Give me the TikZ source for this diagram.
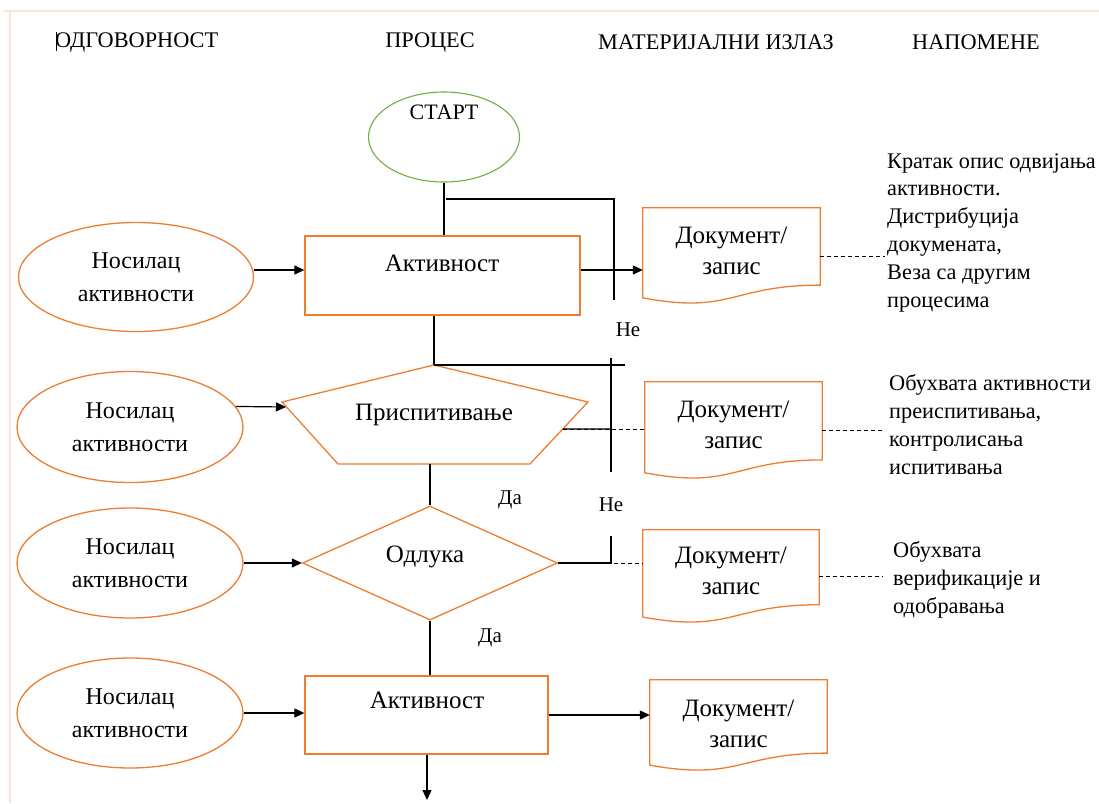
\documentclass[tikz,border=0pt]{standalone}
\usepackage{fontspec}
\setmainfont{Liberation Serif}
\usetikzlibrary{shapes.geometric,arrows.meta,calc}
\definecolor{shapeorange}{HTML}{ED7D31}
\definecolor{startgreen}{HTML}{70AD47}
\definecolor{framepeach}{HTML}{FBE4D5}

% document symbol with a wavy lower edge, drawn on the corners of node #1
\newcommand{\docoutline}[1]{%
  \draw[outline] (#1.north west) -- (#1.north east)
    -- ($(#1.north east)!0.802!(#1.south east)$)
    .. controls ($(#1.north)!0.802!(#1.south)$) and ($(#1.north)!1.108!(#1.south)$)
    .. ($(#1.north west)!0.934!(#1.south west)$) -- cycle;}

\begin{document}
\begin{tikzpicture}[x=1pt,y=-1pt,
  outline/.style={draw=shapeorange,line width=1.3pt},
  procbox/.style={outline,rectangle,inner sep=0pt},
  actor/.style={outline,ellipse,inner sep=0pt,align=center,font=\fontsize{24}{33}\selectfont},
  docnode/.style={rectangle,draw=none,inner sep=0pt},
  doctext/.style={align=center,font=\fontsize{25}{31}\selectfont},
  conn/.style={line width=1.2pt},
  arr/.style={conn,-{Triangle[length=10pt,width=9pt]}},
  leader/.style={line width=0.9pt,dash pattern=on 4pt off 3pt},
  boxtext/.style={font=\fontsize{25}{28}\selectfont},
  head/.style={font=\fontsize{22.3}{26}\selectfont},
  note/.style={align=left,anchor=west,inner sep=0pt,font=\fontsize{22.3}{27.8}\selectfont},
  answer/.style={font=\fontsize{21}{24}\selectfont}
]
\useasboundingbox (0,0) rectangle (1099,803);

% page frame
\draw[framepeach,line width=1.5pt] (4,11) -- (1099,11);
\draw[framepeach,line width=1.5pt] (10,11) -- (10,803);

% column headings
\node[head,anchor=west,inner sep=0pt] (hresp) at (55,42) {ОДГОВОРНОСТ};
\draw[line width=0.8pt] (56,32) -- (56,51);
\node[head] (hproc) at (430,42) {ПРОЦЕС};
\node[head] (hout) at (716,42) {МАТЕРИЈАЛНИ ИЗЛАЗ};
\node[head] (hnote) at (976,42) {НАПОМЕНЕ};

% start
\node[draw=startgreen,line width=1.1pt,ellipse,minimum width=151pt,minimum height=90pt,inner sep=0pt] (start) at (444,137) {};
\node[font=\fontsize{22}{25}\selectfont] (startt) at (444,112) {СТАРТ};

% actors
\node[actor,minimum width=235pt,minimum height=109pt] (ell1) at (136,277) {Носилац\\активности};
\node[actor,minimum width=226pt,minimum height=111pt] (ell2) at (130,427) {Носилац\\активности};
\node[actor,minimum width=226pt,minimum height=110pt] (ell3) at (130,563) {Носилац\\активности};
\node[actor,minimum width=226pt,minimum height=110pt] (ell4) at (130,713) {Носилац\\активности};

% process steps
\node[procbox,minimum width=275pt,minimum height=79pt] (act1) at (442.5,275.5) {};
\node[boxtext] (act1t) at (442,263) {Активност};

\coordinate (pT) at (434,365);
\coordinate (pRt) at (588,402);
\coordinate (pBR) at (530,464);
\coordinate (pBL) at (338,464);
\coordinate (pL) at (282,402);
\draw[outline,line join=miter] (pT) -- (pRt) -- (pBR) -- (pBL) -- (pL) -- cycle;
\node[boxtext] (review) at (434,415) {Приспитивање};
\coordinate (pB) at (430,464);
\coordinate (pR) at ($(pRt)!0.435!(pBR)$);

\node[outline,diamond,aspect=2.2,inner sep=0pt,minimum width=255pt,minimum height=114pt] (dec) at (430,563) {};
\node[boxtext] (dect) at (425,557) {Одлука};

\node[procbox,minimum width=243pt,minimum height=78pt] (act2) at (426.5,715) {};
\node[boxtext] (act2t) at (427,700) {Активност};

% output documents
\node[docnode,minimum width=177pt,minimum height=96pt] (doc1) at (731.5,256) {};
\node[docnode,minimum width=177pt,minimum height=97pt] (doc2) at (733.5,430.5) {};
\node[docnode,minimum width=176pt,minimum height=93pt] (doc3) at (731,576.5) {};
\node[docnode,minimum width=177pt,minimum height=91pt] (doc4) at (738.5,725.5) {};
\docoutline{doc1}
\docoutline{doc2}
\docoutline{doc3}
\docoutline{doc4}
\node[doctext] (doc1t) at (731.5,250.5) {Документ/\\запис};
\node[doctext] (doc2t) at (733.5,425) {Документ/\\запис};
\node[doctext] (doc3t) at (731,570.5) {Документ/\\запис};
\node[doctext] (doc4t) at (738.5,724) {Документ/\\запис};

% notes
\node[note] (note1) at (887,232.5) {Кратак опис одвијања\\активности.\\Дистрибуција\\докумената,\\Веза са другим\\процесима};
\node[note] (note2) at (889,424.5) {Обухвата активности\\преиспитивања,\\контролисања\\испитивања};
\node[note] (note3) at (893,580) {Обухвата\\верификације и\\одобравања};

% main flow
\draw[conn] (start.south) -- (start.south |- act1.north);
\draw[conn] (act1.south -| pT) -- (pT);
\draw[conn] (pB) -- (dec.north);
\draw[conn] (dec.south) -- (dec.south |- act2.north);
\coordinate (flowend) at (427,800);
\draw[arr] (act2.south -| flowend) -- (flowend);

% actors to steps
\draw[arr] ([yshift=7pt]ell1.east) coordinate (e1) -- (e1 -| act1.west);
\draw[arr] (ell2.11) -- ([xshift=4pt,yshift=-5pt]pL);
\draw[arr] (ell3.east) -- (dec.west);
\draw[arr] (ell4.east) -- (ell4.east -| act2.west);

% steps to documents
\draw[arr] ([yshift=5.5pt]act1.east) coordinate (o1) -- (o1 -| doc1.west);
\draw[arr] (act2.east) -- (act2.east -| doc4.west);
\coordinate (ret2) at (611,429);
\draw[conn] (pR) -- (ret2);
\draw[leader] (pR) -- (pR -| doc2.west);
\coordinate (ret3) at (611,536);
\draw[conn] (dec.east) -- (dec.east -| ret3) -- (ret3);
\draw[leader] (dec.east) -- (dec.east -| doc3.west);

% return branches ("Не")
\coordinate (loopA) at (446,199);
\coordinate (loopB) at (614,199);
\coordinate (loopC) at (614,300);
\draw[conn] (loopA) -- (loopB) -- (loopC);
\coordinate (loop2a) at (625,365);
\draw[conn] (pT) -- (loop2a);
\coordinate (loop2t) at (611,358);
\coordinate (loop2b) at (611,472);
\draw[conn] (loop2t) -- (loop2b);

% answers
\node[answer] (no1) at (628,330) {Не};
\node[answer] (no2) at (611,505) {Не};
\node[answer] (yes1) at (510,500) {Да};
\node[answer] (yes2) at (490,638) {Да};

% leaders to notes
\coordinate (n1) at (885,256);
\coordinate (n2) at (885,430.5);
\coordinate (n3) at (883,576.5);
\draw[leader] (doc1.east) -- (n1);
\draw[leader] (doc2.east) -- (n2);
\draw[leader] (doc3.east) -- (n3);
\end{tikzpicture}
\end{document}
